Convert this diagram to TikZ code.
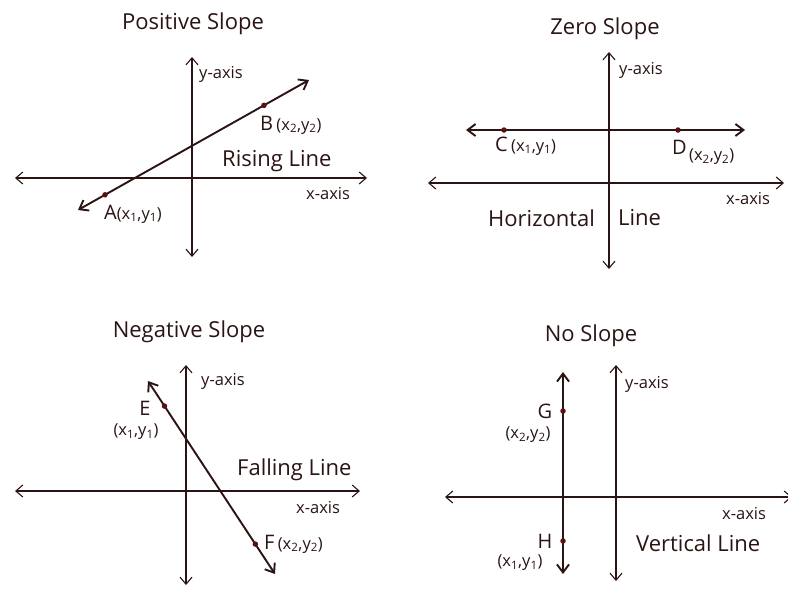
\documentclass[tikz,border=0pt]{standalone}
\usepackage{fontspec}
\setmainfont{Open Sans}
\usetikzlibrary{arrows.meta,calc}
\definecolor{ink}{HTML}{2A1414}
\definecolor{dotc}{HTML}{5A1010}
\newcommand{\cofont}{\fontsize{16.5}{18}\selectfont}
\tikzset{
  axis/.style={draw=ink, line width=1.1pt, {Straight Barb[length=7pt,width=12pt]}-{Straight Barb[length=7pt,width=12pt]}},
  mainline/.style={draw=ink, line width=1.9pt, {Straight Barb[length=8pt,width=12pt]}-{Straight Barb[length=8pt,width=12pt]}},
  dot/.style={circle, fill=dotc, inner sep=0pt, minimum size=5.5pt},
  title/.style={font=\fontsize{22}{25}\selectfont, text=ink, inner sep=0pt},
  axlab/.style={font=\fontsize{16.5}{18}\selectfont, text=ink, inner sep=0pt},
  ptlab/.style={font=\fontsize{20}{23}\selectfont, text=ink, inner sep=0pt},
  coord/.style={font=\cofont, text=ink, inner sep=0pt},
  desc/.style={font=\fontsize{22}{25}\selectfont, text=ink, inner sep=0pt}
}
\begin{document}
\begin{tikzpicture}[x=1pt,y=-1pt]
\useasboundingbox (0,0) rectangle (788,592);
\fill[white] (0,0) rectangle (788,592);
% ---------- Panel 1: Positive slope
\node[title] (t1) at (193,24) {Positive Slope};
\coordinate (p1xl) at (15,178); \coordinate (p1xr) at (367,178);
\coordinate (p1yt) at (192,57); \coordinate (p1yb) at (192,257);
\draw[axis] (p1xl) -- (p1xr);
\draw[axis] (p1yb) -- (p1yt);
\coordinate (p1s) at (78,210); \coordinate (p1e) at (309,80);
\draw[mainline] (p1s) -- (p1e);
\node[dot] (A) at ($(p1s)!0.117!(p1e)$) {};
\node[dot] (B) at ($(p1s)!0.805!(p1e)$) {};
\node[axlab, anchor=west] (p1ylab) at (199,74) {y-axis};
\node[axlab, anchor=west] (p1xlab) at (306,194) {x-axis};
\node[desc, anchor=west] (rising) at (222,161) {Rising Line};
\node[ptlab, anchor=west] (Blab) at (260,125) {B\,{\cofont(x\textsubscript{2},y\textsubscript{2})}};
\node[ptlab, anchor=west] (Alab) at (104,214) {A{\cofont(x\textsubscript{1},y\textsubscript{1})}};
% ---------- Panel 2: Zero slope
\node[title] (t2) at (605,29) {Zero Slope};
\coordinate (p2xl) at (428,183); \coordinate (p2xr) at (784,183);
\coordinate (p2yt) at (609,52); \coordinate (p2yb) at (609,269);
\draw[axis] (p2xl) -- (p2xr);
\draw[axis] (p2yb) -- (p2yt);
\coordinate (p2s) at (466,130); \coordinate (p2e) at (745,130);
\draw[mainline] (p2s) -- (p2e);
\node[dot] (C) at (504,130) {};
\node[dot] (D) at (678,130) {};
\node[axlab, anchor=west] (p2ylab) at (619,70) {y-axis};
\node[axlab, anchor=west] (p2xlab) at (726,199) {x-axis};
\node[ptlab, anchor=west] (Clab) at (495,146) {C\,{\cofont(x\textsubscript{1},y\textsubscript{1})}};
\node[ptlab, anchor=west] (Dlab) at (672,147) {D};
\node[coord, anchor=west] (Dco) at (689,157) {(x\textsubscript{2},y\textsubscript{2})};
\node[desc, anchor=west] (horiz) at (488,218) {Horizontal};
\node[desc, anchor=west] (hline) at (618,218) {Line};
% ---------- Panel 3: Negative slope
\node[title] (t3) at (189,332) {Negative Slope};
\coordinate (p3xl) at (15,491); \coordinate (p3xr) at (360,491);
\coordinate (p3yt) at (186,365); \coordinate (p3yb) at (186,585);
\draw[axis] (p3xl) -- (p3xr);
\draw[axis] (p3yb) -- (p3yt);
\coordinate (p3s) at (148,381); \coordinate (p3e) at (275,574);
\draw[mainline] (p3s) -- (p3e);
\node[dot] (E) at ($(p3s)!0.13!(p3e)$) {};
\node[dot] (F) at ($(p3s)!0.845!(p3e)$) {};
\node[axlab, anchor=west] (p3ylab) at (201,381) {y-axis};
\node[axlab, anchor=west] (p3xlab) at (296,508) {x-axis};
\node[desc, anchor=west] (falling) at (237,470) {Falling Line};
\node[ptlab] (Elab) at (145,408) {E};
\node[coord] (Eco) at (136,432) {(x\textsubscript{1},y\textsubscript{1})};
\node[ptlab, anchor=west] (Flab) at (264,544) {F\,{\cofont(x\textsubscript{2},y\textsubscript{2})}};
% ---------- Panel 4: No slope
\node[title] (t4) at (591,336) {No Slope};
\coordinate (p4xl) at (445,497); \coordinate (p4xr) at (792,497);
\coordinate (p4yt) at (616,365); \coordinate (p4yb) at (616,581);
\draw[axis] (p4xl) -- (p4xr);
\draw[axis] (p4yb) -- (p4yt);
\coordinate (p4s) at (563,574); \coordinate (p4e) at (563,372);
\draw[mainline] (p4s) -- (p4e);
\node[dot] (G) at (563,411) {};
\node[dot] (H) at (563,541) {};
\node[axlab, anchor=west] (p4ylab) at (625,384) {y-axis};
\node[axlab, anchor=west] (p4xlab) at (722,514) {x-axis};
\node[desc, anchor=west] (vert) at (636,543) {Vertical Line};
\node[ptlab] (Glab) at (545,411) {G};
\node[coord] (Gco) at (528,435) {(x\textsubscript{2},y\textsubscript{2})};
\node[ptlab] (Hlab) at (545,541) {H};
\node[coord] (Hco) at (520,563) {(x\textsubscript{1},y\textsubscript{1})};
\end{tikzpicture}
\end{document}
